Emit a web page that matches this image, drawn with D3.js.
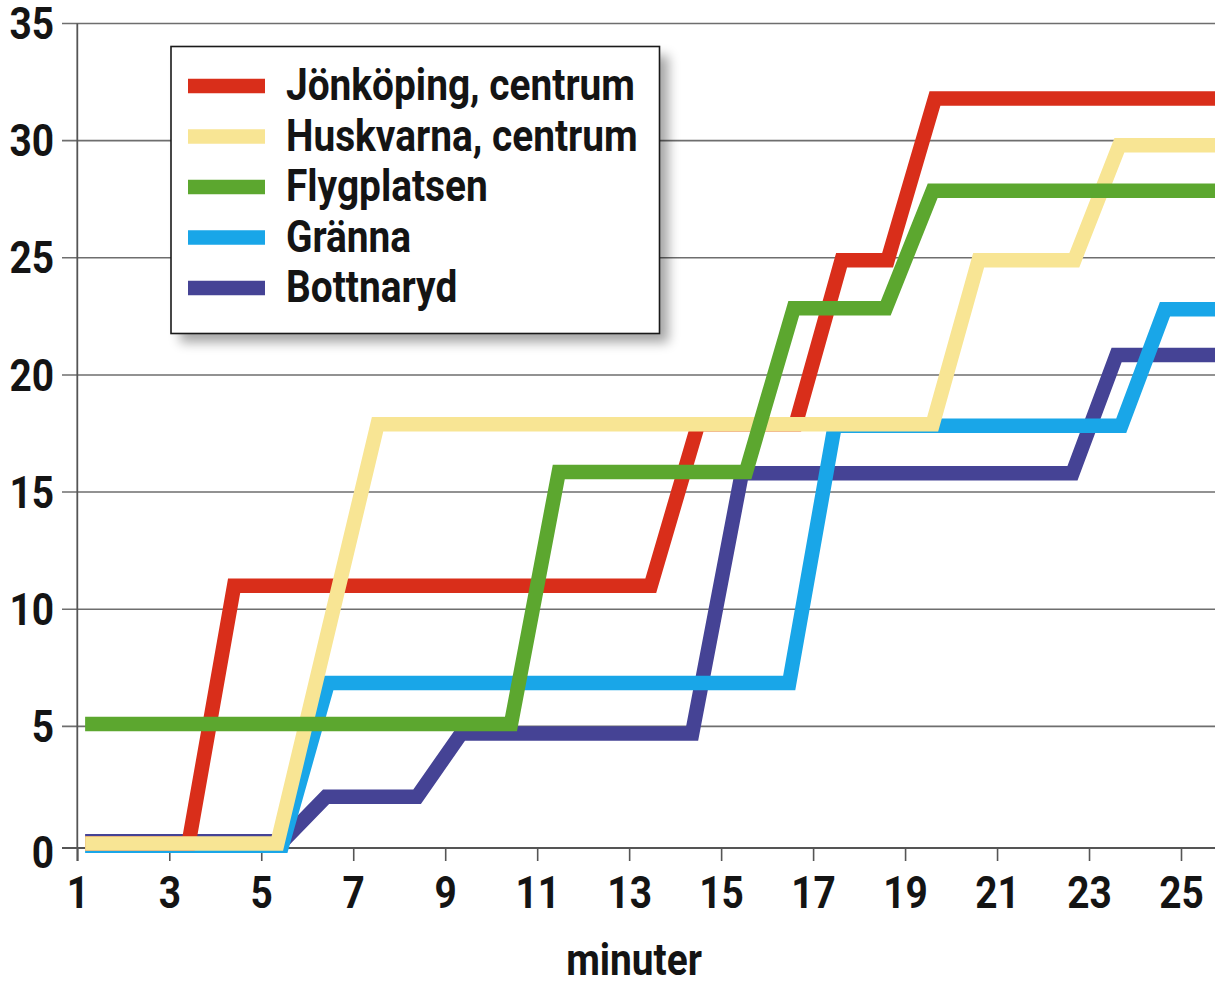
<!DOCTYPE html>
<html>
<head>
<meta charset="utf-8">
<script src="https://cdn.jsdelivr.net/npm/d3@7"></script>
<style>
  html, body { margin: 0; padding: 0; background: #fff; }
  svg { display: block; }
  text { font-family: "Roboto", "Liberation Sans", sans-serif; font-weight: bold; fill: #141414; }
</style>
</head>
<body>
<svg id="chart" width="1215" height="983"></svg>
<script>
// Series: minutes (x) and counts (y) at each corner of the stepped lines
const seriesNames = ["Jönköping, centrum", "Huskvarna, centrum", "Flygplatsen", "Gränna", "Bottnaryd"];
const seriesColors = ["#d92e1a", "#f8e594", "#5ca72f", "#19a6e8", "#454395"];

const jonkopingMin = [1.17, 3.42, 4.41, 13.47, 14.5, 16.62, 17.62, 18.62, 19.65, 25.8];
const jonkopingVal = [0, 0, 11, 11, 17.9, 17.9, 24.9, 24.9, 31.8, 31.8];

const huskvarnaMin = [1.17, 5.35, 7.53, 19.6, 20.6, 22.68, 23.66, 25.8];
const huskvarnaVal = [0, 0, 17.9, 17.9, 24.9, 24.9, 29.8, 29.8];

const flygplatsenMin = [1.17, 10.43, 11.47, 15.54, 16.58, 18.58, 19.6, 25.75];
const flygplatsenVal = [5.1, 5.1, 15.86, 15.86, 22.85, 22.85, 27.86, 27.86];

const grannaMin = [1.17, 5.45, 6.45, 16.48, 17.47, 23.7, 24.65, 25.8];
const grannaVal = [-0.1, -0.1, 6.85, 6.85, 17.83, 17.83, 22.8, 22.8];

const bottnarydMin = [1.17, 5.47, 6.41, 8.39, 9.35, 14.37, 15.45, 22.64, 23.6, 25.8];
const bottnarydVal = [0.1, 0.1, 2.0, 2.0, 4.7, 4.7, 15.8, 15.8, 20.85, 20.85];

const xTicks = [1, 3, 5, 7, 9, 11, 13, 15, 17, 19, 21, 23, 25];
const yTicks = [0, 5, 10, 15, 20, 25, 30, 35];
const xTitle = "minuter";

const seriesMin = [jonkopingMin, huskvarnaMin, flygplatsenMin, grannaMin, bottnarydMin];
const seriesVal = [jonkopingVal, huskvarnaVal, flygplatsenVal, grannaVal, bottnarydVal];
// drawing order, bottom to top
const drawOrder = [4, 3, 0, 1, 2];

const W = 1215, H = 983;
const axisY = 848;      // baseline of the x axis
const axisLeftX = 62;   // where the y ticks / gridlines begin
const FS = "44px";

const x = d3.scaleLinear().domain([1, 25]).range([77.3, 1181]);
const y = d3.scaleLinear().domain([0, 35]).range([843.5, 23.5]);

const svg = d3.select("#chart");

// shadow filter for the legend
const defs = svg.append("defs");
const f = defs.append("filter").attr("id", "shadow").attr("x", "-20%").attr("y", "-20%").attr("width", "140%").attr("height", "140%");
f.append("feGaussianBlur").attr("stdDeviation", 6);

// horizontal gridlines
svg.append("g")
  .selectAll("line")
  .data(yTicks.filter(v => v > 0))
  .join("line")
  .attr("x1", axisLeftX).attr("x2", W)
  .attr("y1", d => y(d)).attr("y2", d => y(d))
  .attr("stroke", "#6e6e6e").attr("stroke-width", 1.6);

// y axis labels
const yAxis = d3.axisLeft(y).tickValues(yTicks).tickSize(0).tickPadding(0).tickFormat(d3.format("d"));
const gy = svg.append("g").attr("transform", `translate(54,0)`).call(yAxis);
gy.select(".domain").remove();
gy.selectAll(".tick")
  .attr("transform", d => `translate(0,${d === 0 ? axisY + 4 : y(d)})`);
gy.selectAll(".tick text")
  .attr("class", "cond")
  .attr("x", 0).attr("dy", "0.355em")
  .style("font-size", FS)
  .attr("font-family", null).attr("font-size", null).attr("fill", null);

// x axis
const xAxis = d3.axisBottom(x).tickValues(xTicks).tickSize(13).tickSizeOuter(0).tickPadding(10).tickFormat(d3.format("d"));
const gx = svg.append("g").attr("transform", `translate(0,${axisY})`).call(xAxis);
gx.select(".domain").remove();
gx.selectAll(".tick line").attr("stroke", "#555").attr("stroke-width", 1.6);
gx.selectAll(".tick text")
  .attr("class", "cond")
  .attr("y", 60).attr("dy", null)
  .style("font-size", FS)
  .attr("font-family", null).attr("font-size", null).attr("fill", null);

svg.append("line")
  .attr("x1", axisLeftX).attr("x2", W).attr("y1", axisY).attr("y2", axisY)
  .attr("stroke", "#555").attr("stroke-width", 1.8);
svg.append("line")
  .attr("x1", x(1)).attr("x2", x(1)).attr("y1", y(35)).attr("y2", axisY + 13)
  .attr("stroke", "#555").attr("stroke-width", 1.8);

// axis title
svg.append("text")
  .attr("class", "cond")
  .attr("x", 634).attr("y", 975)
  .attr("text-anchor", "middle")
  .style("font-size", FS)
  .text(xTitle);

// series lines
const line = d3.line().x(d => x(d[0])).y(d => y(d[1]));
svg.append("g")
  .selectAll("path")
  .data(drawOrder)
  .join("path")
  .attr("d", i => line(seriesMin[i].map((m, k) => [m, seriesVal[i][k]])))
  .attr("fill", "none")
  .attr("stroke", i => seriesColors[i])
  .attr("stroke-width", 14.5)
  .attr("stroke-linejoin", "miter")
  .attr("stroke-miterlimit", 10)
  .attr("stroke-linecap", "butt");

// legend
const lg = svg.append("g");
const box = { x: 171, y: 46.5, w: 488.5, h: 287 };
lg.append("rect")
  .attr("x", box.x + 9).attr("y", box.y + 9).attr("width", box.w).attr("height", box.h)
  .attr("fill", "#000").attr("opacity", 0.35).attr("filter", "url(#shadow)");
lg.append("rect")
  .attr("x", box.x).attr("y", box.y).attr("width", box.w).attr("height", box.h)
  .attr("fill", "#fff").attr("stroke", "#1a1a1a").attr("stroke-width", 1.6);

const rows = lg.selectAll("g.row")
  .data(seriesNames.map((n, i) => ({ n, i })))
  .join("g").attr("class", "row")
  .attr("transform", d => `translate(0,${100 + d.i * 50.5})`);
rows.append("line")
  .attr("x1", 188).attr("x2", 265).attr("y1", -14).attr("y2", -14)
  .attr("stroke", d => seriesColors[d.i]).attr("stroke-width", 14.5);
rows.append("text")
  .attr("class", "cond")
  .attr("x", 286).attr("y", 0)
  .style("font-size", FS)
  .text(d => d.n);

// condensed lettering: squeeze every label horizontally by one common factor
const firstLabel = rows.select("text").node();
const squeeze = 349 / firstLabel.getComputedTextLength();
svg.selectAll("text.cond").each(function () {
  const w = this.getComputedTextLength();
  d3.select(this).attr("textLength", w * squeeze).attr("lengthAdjust", "spacingAndGlyphs");
});
</script>
</body>
</html>
